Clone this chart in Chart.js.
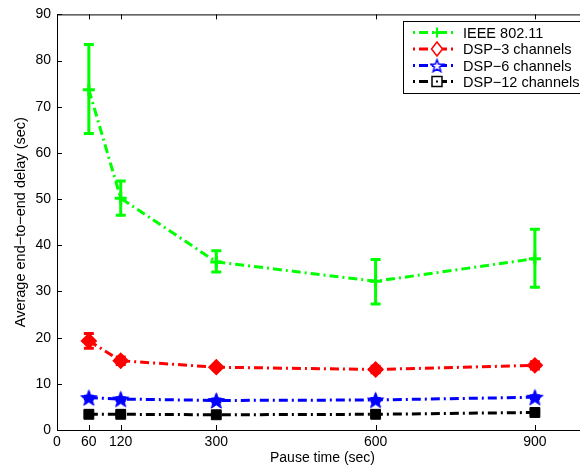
<!DOCTYPE html>
<html>
<head>
<meta charset="utf-8">
<script src="https://cdn.jsdelivr.net/npm/chart.js@4.4.0/dist/chart.umd.min.js"></script>
<style>
  html, body { margin: 0; padding: 0; background: #fff; overflow: hidden; }
  #wrap { width: 600px; height: 471px; }
</style>
</head>
<body>
<div id="wrap"><canvas id="delayChart" width="600" height="471"></canvas></div>
<script>
// data
var pauseTimes = [60, 120, 300, 600, 900];
var xTicks = [0, 60, 120, 300, 600, 900];

var seriesNames = ['IEEE 802.11', 'DSP\u22123 channels', 'DSP\u22126 channels', 'DSP\u221212 channels'];

var ieeeDelay = [73.7, 50.2, 36.4, 32.2, 37.1];
var ieeeLow   = [64.2, 46.5, 34.2, 27.3, 30.9];
var ieeeHigh  = [83.5, 53.9, 38.8, 36.9, 43.5];

var dsp3Delay = [19.3, 15.0, 13.6, 13.1, 14.0];
var dsp3Low   = [17.7, 14.2, 13.3, 12.4, 13.2];
var dsp3High  = [20.9, 15.8, 13.9, 13.8, 14.8];

var dsp6Delay = [7.0, 6.7, 6.4, 6.5, 7.1];
var dsp6Low   = [6.7, 6.4, 6.1, 6.2, 6.8];
var dsp6High  = [7.3, 7.0, 6.7, 6.8, 7.4];

var dsp12Delay = [3.4, 3.4, 3.3, 3.4, 3.8];
var dsp12Low   = [3.1, 3.1, 3.0, 3.1, 3.5];
var dsp12High  = [3.7, 3.7, 3.6, 3.7, 4.1];

var FONT = 'Liberation Sans, Arial, Helvetica, sans-serif';
var dashDot = [9, 4, 2, 4];

// filled 5-point star for the DSP-6 series
function makeStar(size, fill, stroke, lw) {
    var c = document.createElement('canvas');
    c.width = size; c.height = size;
    var g = c.getContext('2d');
    var cx = size / 2, cy = size / 2 + 0.8, R = size / 2 - 1, r = R * 0.42;
    g.beginPath();
    for (var i = 0; i < 10; i++) {
        var a = -Math.PI / 2 + i * Math.PI / 5;
        var rr = i % 2 === 0 ? R : r;
        g.lineTo(cx + rr * Math.cos(a), cy + rr * Math.sin(a));
    }
    g.closePath();
    if (fill) { g.fillStyle = fill; g.fill(); }
    g.lineWidth = lw; g.strokeStyle = stroke; g.stroke();
    return c;
}
var starPoint = makeStar(19, '#0000ff', '#0000ff', 1);

function pts(vals) {
    return pauseTimes.map(function (t, i) { return { x: t, y: vals[i] }; });
}

var errLow = [ieeeLow, dsp3Low, dsp6Low, dsp12Low];
var errHigh = [ieeeHigh, dsp3High, dsp6High, dsp12High];
var colors = ['#00ff00', '#ff0000', '#0000ff', '#000000'];

var datasets = [
    { label: seriesNames[0], data: pts(ieeeDelay), borderColor: colors[0], pointStyle: 'cross', pointRadius: 6, pointBorderWidth: 3, pointBorderColor: colors[0] },
    { label: seriesNames[1], data: pts(dsp3Delay), borderColor: colors[1], pointStyle: 'rectRot', pointRadius: 7, pointBorderWidth: 2, pointBackgroundColor: colors[1], pointBorderColor: colors[1] },
    { label: seriesNames[2], data: pts(dsp6Delay), borderColor: colors[2], pointStyle: starPoint, pointRadius: 9 },
    { label: seriesNames[3], data: pts(dsp12Delay), borderColor: colors[3], pointStyle: 'rect', pointRadius: 7, pointBorderWidth: 1, pointBackgroundColor: '#000', pointBorderColor: '#000' }
];
datasets.forEach(function (d) {
    d.borderWidth = 3;
    d.borderDash = dashDot;
    d.fill = false;
    d.tension = 0;
});

// matlab style box, inward ticks, error bars and legend
var matlabPlugin = {
    id: 'matlab',
    afterDatasetsDraw: function (chart) {
        var ctx = chart.ctx, xs = chart.scales.x, ys = chart.scales.y;
        ctx.save();
        ctx.setLineDash([]);
        ctx.lineWidth = 3;
        for (var s = 0; s < 4; s++) {
            ctx.strokeStyle = colors[s];
            for (var i = 0; i < pauseTimes.length; i++) {
                var px = xs.getPixelForValue(pauseTimes[i]);
                var top = ys.getPixelForValue(errHigh[s][i]);
                var bot = ys.getPixelForValue(errLow[s][i]);
                ctx.beginPath();
                ctx.moveTo(px, top); ctx.lineTo(px, bot);
                ctx.moveTo(px - 5, top); ctx.lineTo(px + 5, top);
                ctx.moveTo(px - 5, bot); ctx.lineTo(px + 5, bot);
                ctx.stroke();
            }
        }
        ctx.restore();
    },
    afterDraw: function (chart) {
        var ctx = chart.ctx, a = chart.chartArea, xs = chart.scales.x, ys = chart.scales.y;
        ctx.save();
        ctx.strokeStyle = '#000';
        ctx.lineWidth = 1;
        ctx.setLineDash([]);
        ctx.strokeRect(a.left + 0.5, a.top + 0.5, a.right - a.left, a.bottom - a.top);
        ctx.beginPath();
        xTicks.forEach(function (v) {
            var px = Math.round(xs.getPixelForValue(v)) + 0.5;
            ctx.moveTo(px, a.bottom); ctx.lineTo(px, a.bottom - 5);
            ctx.moveTo(px, a.top); ctx.lineTo(px, a.top + 5);
        });
        ys.ticks.forEach(function (t) {
            var py = Math.round(ys.getPixelForValue(t.value)) + 0.5;
            ctx.moveTo(a.left, py); ctx.lineTo(a.left + 5, py);
            ctx.moveTo(a.right, py); ctx.lineTo(a.right - 5, py);
        });
        ctx.stroke();

        // legend
        var lx = 403.5, ly = 21.5, lw = 200, lh = 72;
        ctx.fillStyle = '#fff';
        ctx.fillRect(lx, ly, lw, lh);
        ctx.strokeRect(lx, ly, lw, lh);
        ctx.font = '14.5px ' + FONT;
        ctx.textBaseline = 'middle';
        ctx.textAlign = 'left';
        var rows = [32.5, 49, 65.5, 81.5];
        for (var s = 0; s < 4; s++) {
            var y = rows[s], c = colors[s], mx = 437;
            ctx.strokeStyle = c;
            ctx.lineWidth = 3;
            ctx.setLineDash(dashDot);
            ctx.lineDashOffset = 13;
            ctx.beginPath(); ctx.moveTo(413, y); ctx.lineTo(454, y); ctx.stroke();
            ctx.setLineDash([]);
            ctx.lineDashOffset = 0;
            ctx.fillStyle = '#fff';
            ctx.lineWidth = 1.5;
            if (s === 0) {
                ctx.lineWidth = 2;
                ctx.beginPath();
                ctx.moveTo(mx - 5, y); ctx.lineTo(mx + 5, y);
                ctx.moveTo(mx, y - 5); ctx.lineTo(mx, y + 5);
                ctx.stroke();
            } else if (s === 1) {
                ctx.beginPath();
                ctx.moveTo(mx, y - 7); ctx.lineTo(mx + 5.5, y); ctx.lineTo(mx, y + 7); ctx.lineTo(mx - 5.5, y); ctx.closePath();
                ctx.fill(); ctx.stroke();
            } else if (s === 2) {
                ctx.drawImage(makeStar(15, '#fff', c, 1.5), mx - 7.5, y - 7.5);
            } else {
                ctx.fillRect(mx - 5, y - 5, 10, 10);
                ctx.strokeRect(mx - 5, y - 5, 10, 10);
                ctx.fillStyle = '#000';
                ctx.fillRect(mx - 1, y - 1, 2, 2);
            }
            ctx.fillStyle = '#000';
            ctx.fillText(chart.data.datasets[s].label, 463, y + 1);
        }
        ctx.restore();
    }
};

new Chart(document.getElementById('delayChart').getContext('2d'), {
    type: 'line',
    data: { datasets: datasets },
    plugins: [matlabPlugin],
    options: {
        responsive: false,
        animation: false,
        events: [],
        layout: { padding: { left: 0, right: 10, top: 14, bottom: 0 } },
        plugins: { legend: { display: false }, tooltip: { enabled: false } },
        scales: {
            x: {
                type: 'linear',
                min: 0,
                max: 1000,
                afterBuildTicks: function (scale) {
                    scale.ticks = xTicks.map(function (v) { return { value: v }; });
                },
                afterFit: function (scale) { scale.height = 41; },
                grid: { display: false, drawTicks: false },
                border: { display: false },
                ticks: { color: '#000', font: { family: FONT, size: 14 }, padding: 4, maxRotation: 0, autoSkip: false },
                title: { display: true, text: 'Pause time (sec)', color: '#000', font: { family: FONT, size: 14 }, padding: { top: 0, bottom: 4 } }
            },
            y: {
                min: 0,
                max: 90,
                afterFit: function (scale) { scale.width = 57; },
                grid: { display: false, drawTicks: false },
                border: { display: false },
                ticks: { stepSize: 10, color: '#000', font: { family: FONT, size: 14 }, padding: 6 },
                title: { display: true, text: 'Average end\u2212to\u2212end delay (sec)', color: '#000', font: { family: FONT, size: 14.5 }, padding: { top: 12, bottom: 0 } }
            }
        }
    }
});
</script>
</body>
</html>
